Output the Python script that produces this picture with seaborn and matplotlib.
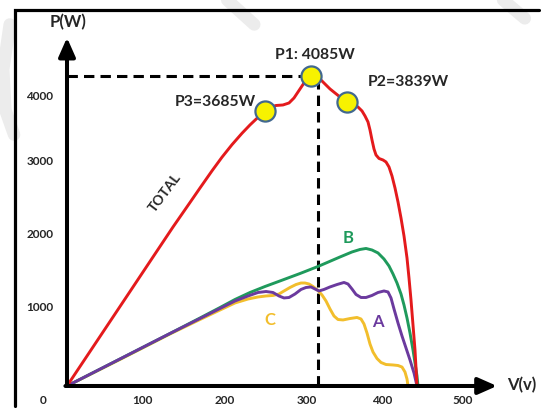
import numpy as np
import pandas as pd
import matplotlib
matplotlib.use("Agg")
import matplotlib.pyplot as plt
import seaborn as sns

# ---------------- data ----------------
total_v = [0, 41.25, 78.75, 107.5, 132.5, 153.75, 166.25, 181.25, 193.75, 206.25,
           218.75, 228.75, 238.75, 247.5, 253.75, 261.25, 270, 277.5, 283.75, 288.75,
           293.75, 298.75, 305, 311.25, 316.25, 322.5, 328.75, 335, 341.25, 350,
           357.5, 363.75, 368.75, 372.5, 376.25, 378.75, 381.25, 383.75, 386.25, 390,
           395, 398.75, 402.5, 406.25, 410, 413.75, 417.5, 421.25, 425, 427.5,
           430, 432.5, 435, 436.25, 437.5]
total_p = [0, 652, 1245, 1700, 2095, 2418, 2609, 2835, 3015, 3180,
           3330, 3440, 3540, 3624, 3670, 3696, 3703, 3729, 3795, 3874,
           3953, 4032, 4085, 4085, 4045, 3979, 3914, 3861, 3808, 3742,
           3709, 3676, 3624, 3558, 3479, 3373, 3242, 3123, 3044, 2998,
           2978, 2952, 2886, 2767, 2609, 2425, 2214, 1977, 1687, 1423,
           1133, 804, 474, 237, 0]

b_v = [0, 66.25, 128.75, 166.25, 191.25, 210, 228.75, 247.5, 266.25, 291.25,
       313.75, 341.25, 356.25, 366.25, 373.75, 381.25, 388.75, 396.25, 402.5, 407.5,
       412.5, 417.5, 421.25, 425, 428.75, 432.5, 435, 437.5, 438.75]
b_p = [0, 356, 692, 896, 1034, 1140, 1232, 1311, 1384, 1482,
       1575, 1700, 1766, 1799, 1812, 1792, 1753, 1673, 1581, 1476,
       1357, 1212, 1067, 896, 698, 474, 303, 132, 0]

a_v = [0, 66.25, 128.75, 166.25, 191.25, 210, 226.25, 238.75, 248.75, 257.5,
       265, 271.25, 277.5, 285, 292.5, 298.75, 305, 310, 315, 321.25,
       328.75, 337.5, 346.25, 351.25, 356.25, 361.25, 367.5, 373.75, 381.25, 388.75,
       396.25, 401.25, 405, 408.75, 413.75, 418.75, 423.75, 428.75, 433.75, 437.5]
a_p = [0, 356, 692, 889, 1021, 1120, 1186, 1232, 1245, 1232,
       1186, 1160, 1166, 1212, 1272, 1298, 1305, 1278, 1252, 1272,
       1305, 1337, 1364, 1344, 1278, 1206, 1166, 1166, 1193, 1232,
       1252, 1239, 1160, 1015, 830, 659, 501, 343, 171, 0]

c_v = [0, 66.25, 128.75, 166.25, 191.25, 210, 226.25, 238.75, 248.75, 257.5,
       265, 271.25, 278.75, 286.25, 292.5, 297.5, 302.5, 307.5, 313.75, 318.75,
       323.75, 328.75, 333.75, 338.75, 345, 353.75, 362.5, 367.5, 371.25, 375,
       378.75, 382.5, 387.5, 392.5, 398.75, 407.5, 413.75, 418.75, 422.5, 425,
       426.25]
c_p = [0, 349, 685, 876, 1001, 1094, 1146, 1173, 1186, 1193,
       1212, 1252, 1298, 1337, 1357, 1357, 1344, 1311, 1258, 1199,
       1120, 1015, 922, 876, 870, 889, 903, 883, 817, 698,
       553, 448, 362, 310, 283, 277, 270, 250, 184, 92,
       0]

mpp_names = ["P1: 4085W", "P2=3839W", "P3=3685W"]
mpp_v = [305, 350, 247.5]
mpp_p = [4085, 3742, 3624]

x_tick_labels = ["0", "100", "200", "300", "400", "500"]
y_tick_labels = ["1000", "2000", "3000", "4000"]

# ---------------- layout ----------------
X_MIN, X_MAX = -83.75, 592.5
Y_MIN, Y_MAX = -290, 5086
x_tick_pos = [-30, 93.75, 197.5, 300, 393.75, 495]
x_tick_y = -185
y_tick_pos = [1028, 1990, 2952, 3808]
y_tick_x = -33.75
v_line = 314
frame_x = [-65, -65, 590]
frame_y = [-270, 4955, 4955]

RED = "#e41a1c"
GREEN = "#1f9a5c"
PURPLE = "#6b3a9e"
YELLOW = "#f2be2c"

sns.set_theme(style="white")
plt.rcParams["font.family"] = ["Lato", "DejaVu Sans"]

fig = plt.figure(figsize=(5.41, 4.08), dpi=100)
fig.patch.set_facecolor("white")
ax = fig.add_axes([0, 0, 1, 1])
ax.set_xlim(X_MIN, X_MAX)
ax.set_ylim(Y_MIN, Y_MAX)
ax.axis("off")

# faint watermark strokes (axes-fraction coordinates)
for xs, ys in [([0.018, 0.006, 0.010, 0.026], [0.94, 0.83, 0.73, 0.67]),
               ([0.42, 0.47], [1.0, 0.94]),
               ([0.93, 0.97], [1.0, 0.955])]:
    ax.plot(xs, ys, color="#ececec", lw=9, solid_capstyle="round",
            transform=ax.transAxes, zorder=0, clip_on=False)

# picture border (left and top sides)
ax.plot(frame_x, frame_y, color="black", lw=2.3, zorder=10,
        solid_joinstyle="miter")

# dashed MPP guides
ax.plot([0, mpp_v[0]], [mpp_p[0], mpp_p[0]], color="black", lw=2.2,
        dashes=(3.4, 2.0), zorder=2)
ax.plot([v_line, v_line], [0, mpp_p[0]], color="black", lw=2.2,
        dashes=(3.4, 2.0), zorder=2)

# curves
sns.lineplot(x=c_v, y=c_p, color=YELLOW, lw=2.1, sort=False, ax=ax, zorder=3)
sns.lineplot(x=a_v, y=a_p, color=PURPLE, lw=2.1, sort=False, ax=ax, zorder=4)
sns.lineplot(x=b_v, y=b_p, color=GREEN, lw=2.1, sort=False, ax=ax, zorder=3.5)
sns.lineplot(x=total_v, y=total_p, color=RED, lw=2.1, sort=False, ax=ax, zorder=5)

# axes arrows
arrow_kw = dict(arrowstyle="-|>,head_length=0.95,head_width=0.42", lw=2.9,
                color="black", shrinkA=0, shrinkB=0, mutation_scale=12)
ax.annotate("", xy=(0, 4590), xytext=(0, 0), arrowprops=arrow_kw, zorder=6)
ax.annotate("", xy=(537.5, 0), xytext=(-2, 0), arrowprops=arrow_kw, zorder=6)

# MPP circles
sns.scatterplot(x=mpp_v, y=mpp_p, s=210, color="#f7f200", edgecolor="#41688f",
                linewidth=1.6, ax=ax, zorder=7)

# text
bold = dict(ha="center", va="center", fontweight="bold")
ax.text(1.25, 4796, "P(W)", fontsize=12, **bold)
ax.text(568.75, 13, "V(v)", fontsize=12, **bold)
ax.text(310, 4362, mpp_names[0], fontsize=11.3, **bold)
ax.text(426.25, 4006, mpp_names[1], fontsize=11.3, **bold)
ax.text(185, 3742, mpp_names[2], fontsize=11.3, **bold)
ax.text(122.5, 2543, "TOTAL", fontsize=10, rotation=53, **bold)
ax.text(351.25, 1950, "B", color=GREEN, fontsize=12, **bold)
ax.text(388.75, 843, "A", color=PURPLE, fontsize=12, **bold)
ax.text(253.75, 870, "C", color=YELLOW, fontsize=12, **bold)

for pos, lab in zip(x_tick_pos, x_tick_labels):
    ax.text(pos, x_tick_y, lab, fontsize=8.5, **bold)
for pos, lab in zip(y_tick_pos, y_tick_labels):
    ax.text(y_tick_x, pos, lab, fontsize=8.5, **bold)

fig.savefig("out.png", dpi=100)
